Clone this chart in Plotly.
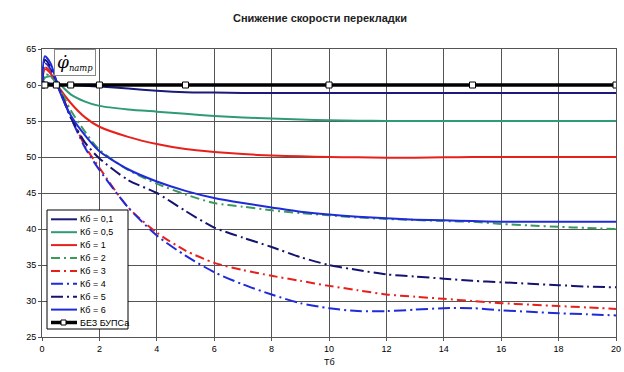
import plotly.graph_objects as go

T = [0, 0.1, 0.3, 0.6, 1, 1.5, 2, 3, 4, 5, 6, 7, 8, 9, 10, 11, 12, 13, 14, 15, 16, 17, 18, 19, 20]

k01 = [60, 60.3, 60.2, 60.05, 60.0, 59.9, 59.8, 59.5, 59.2, 59.0, 58.95, 58.9, 58.9, 58.9, 58.9, 58.9, 58.9, 58.9, 58.9, 58.9, 58.9, 58.9, 58.9, 58.9, 58.9]
k05 = [60, 61.0, 61.2, 60.2, 58.7, 57.7, 57.1, 56.6, 56.3, 56.0, 55.7, 55.5, 55.35, 55.2, 55.1, 55.05, 55.0, 55.0, 55.0, 55.0, 55.0, 55.0, 55.0, 55.0, 55.0]
k1 = [60, 62.2, 61.6, 59.6, 57.5, 55.5, 54.2, 52.8, 51.8, 51.1, 50.7, 50.4, 50.2, 50.1, 50.0, 49.95, 49.9, 49.9, 49.95, 50.0, 50.0, 50.0, 50.0, 50.0, 50.0]
k2 = [60, 61.5, 61.2, 59.6, 56.5, 53.5, 51.0, 48.2, 46.3, 44.8, 43.6, 43.1, 42.6, 42.2, 41.9, 41.6, 41.4, 41.25, 41.1, 41.0, 40.7, 40.5, 40.3, 40.15, 40.0]
k3 = [60, 62.5, 61.8, 59.4, 55.8, 51.5, 48.5, 43.0, 39.5, 37.0, 35.3, 34.3, 33.5, 32.8, 32.1, 31.5, 30.9, 30.6, 30.3, 30.0, 29.7, 29.5, 29.3, 29.1, 28.9]
k4 = [60, 63.0, 62.2, 59.4, 55.5, 51.3, 48.2, 43.0, 39.1, 36.3, 34.0, 32.3, 30.9, 29.7, 29.0, 28.6, 28.6, 28.8, 29.0, 29.0, 28.7, 28.5, 28.3, 28.15, 28.0]
k5 = [60, 63.5, 62.5, 59.5, 55.5, 52.0, 49.8, 46.8, 45.0, 42.5, 40.2, 38.8, 37.5, 36.1, 35.0, 34.3, 33.7, 33.4, 33.1, 32.8, 32.6, 32.4, 32.2, 32.0, 31.9]
k6 = [60, 64.0, 63.0, 59.3, 55.8, 53.0, 50.8, 48.3, 46.6, 45.3, 44.3, 43.6, 43.0, 42.4, 42.0, 41.7, 41.5, 41.3, 41.2, 41.1, 41.0, 41.0, 41.0, 41.0, 41.0]

T_bez = [0, 0.1, 0.5, 1, 2, 5, 10, 15, 20]
bez = [60, 60, 60, 60, 60, 60, 60, 60, 60]

names = ["Кб = 0,1", "Кб = 0,5", "Кб = 1", "Кб = 2", "Кб = 3", "Кб = 4", "Кб = 5", "Кб = 6"]
series = [k01, k05, k1, k2, k3, k4, k5, k6]
colors = ["#1a1a7a", "#2e9a78", "#e8201c", "#3a9a5a", "#e8201c", "#1f2ad8", "#141470", "#1f2ad8"]
dashes = ["solid", "solid", "solid", "9px,4px,2px,4px", "9px,4px,2px,4px",
          "12px,4px,2px,4px", "12px,4px,2px,4px", "solid"]

fig = go.Figure()
for n, s, c, d in zip(names, series, colors, dashes):
    fig.add_trace(go.Scatter(x=T, y=s, name=n, mode="lines",
                             line=dict(color=c, width=2, dash=d, shape="spline", smoothing=0.7)))

fig.add_trace(go.Scatter(x=T_bez, y=bez, name="БЕЗ БУПСа", mode="lines+markers",
                         line=dict(color="black", width=3.5),
                         marker=dict(symbol="square", size=6, color="white",
                                     line=dict(color="black", width=1))))

FW, FH = 624, 372
L, R, TOP, BOT = 42, 616, 49, 337
W, H = R - L, BOT - TOP
px = lambda v: (v - L) / W
py = lambda v: (BOT - v) / H

fig.add_annotation(x=px(75), y=py(62.5), xref="paper", yref="paper",
                   xanchor="center", yanchor="middle",
                   text="<span style='font-size:17px'><i>φ̇</i></span><sub><i>патр</i></sub>",
                   showarrow=False,
                   font=dict(family="DejaVu Serif", size=12, color="black"),
                   bgcolor="white", bordercolor="#888", borderwidth=1, borderpad=2)

fig.add_shape(type="rect", xref="paper", yref="paper", layer="above",
              x0=px(47), x1=px(128), y0=py(329), y1=py(210),
              fillcolor="white", line=dict(color="black", width=1))

leg_names = names + ["БЕЗ БУПСа"]
leg_colors = colors + ["black"]
leg_dashes = dashes + ["solid"]
leg_widths = [2] * 8 + [3.5]
for i, (n, c, d, w) in enumerate(zip(leg_names, leg_colors, leg_dashes, leg_widths)):
    yc = 219.3 + 12.9 * i
    fig.add_shape(type="line", xref="paper", yref="paper", layer="above",
                  x0=px(51), x1=px(77), y0=py(yc), y1=py(yc),
                  line=dict(color=c, width=w, dash=d))
    fig.add_annotation(x=px(77.5), y=py(yc), xref="paper", yref="paper",
                       xanchor="left", yanchor="middle", showarrow=False,
                       text=n, font=dict(size=9, color="black"))
    if i == 8:
        fig.add_shape(type="rect", xref="paper", yref="paper", layer="above",
                      x0=px(61), x1=px(66), y0=py(yc + 2.5), y1=py(yc - 2.5),
                      fillcolor="white", line=dict(color="black", width=1))

fig.add_annotation(x=0.5, y=py(362), xref="paper", yref="paper",
                   xanchor="center", yanchor="middle", showarrow=False,
                   text="Тб", font=dict(size=9, color="black"))

fig.update_layout(
    width=FW, height=FH,
    margin=dict(l=L, r=FW - R, t=TOP, b=FH - BOT, autoexpand=False),
    paper_bgcolor="white", plot_bgcolor="white",
    font=dict(family="Liberation Sans, Arial", size=9, color="black"),
    title=dict(text="<b>Снижение скорости перекладки</b>", x=320 / FW, xanchor="center",
               y=1 - 18 / FH, yanchor="middle", font=dict(size=11, color="#222")),
    showlegend=False,
    xaxis=dict(range=[0, 20], dtick=2, showgrid=True, gridcolor="#555", gridwidth=1,
               showline=True, linecolor="#555", mirror=True, zeroline=False,
               ticks="outside", ticklen=3, tickcolor="#555", ticklabeloverflow="allow"),
    yaxis=dict(range=[25, 65], dtick=5, showgrid=True, gridcolor="#555", gridwidth=1,
               showline=True, linecolor="#555", mirror=True, zeroline=False,
               ticks="outside", ticklen=3, tickcolor="#555"),
)

fig.write_html("out.html", config={"displayModeBar": False},
               post_script="document.body.style.margin='0';document.body.style.overflow='hidden';")
